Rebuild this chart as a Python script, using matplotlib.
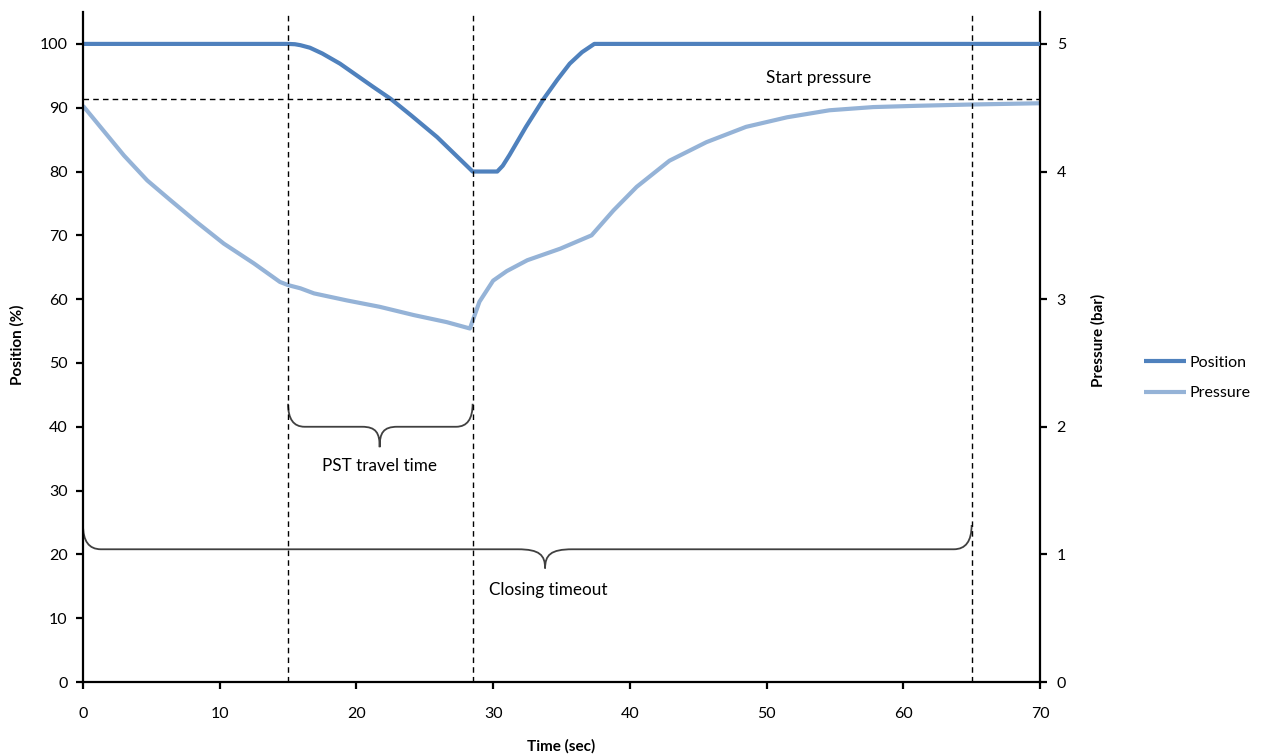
import matplotlib
matplotlib.use("Agg")
import matplotlib.pyplot as plt
from matplotlib.path import Path
from matplotlib.patches import PathPatch

plt.rcParams['font.family'] = ['Lato', 'DejaVu Sans']

# Valve position during the partial stroke test (%)
pos_time = [0, 15.0, 15.5, 15.9, 16.6, 17.5, 18.8, 20.0, 21.2, 22.5, 24.0, 25.9,
            27.2, 28.5, 30.3, 30.7, 31.2, 32.4, 33.7, 34.7, 35.6, 36.5, 37.4, 70]
position = [100, 100, 99.95, 99.8, 99.4, 98.5, 96.9, 95.1, 93.3, 91.4, 88.8, 85.4,
            82.7, 80.0, 80.0, 80.9, 82.6, 87.0, 91.4, 94.4, 96.9, 98.7, 100, 100]

# Supply pressure (bar)
prs_time = [0, 1.5, 3.0, 4.7, 6.4, 8.3, 10.3, 12.5, 14.4, 15.0, 15.9, 16.9, 19.3,
            21.7, 24.2, 26.6, 28.3, 29.0, 30.0, 31.0, 32.5, 34.9, 37.2, 38.8, 40.5,
            42.9, 45.6, 48.5, 51.5, 54.6, 57.8, 61.0, 64.9, 70.0]
pressure = [4.515, 4.32, 4.125, 3.93, 3.775, 3.605, 3.435, 3.28, 3.135, 3.11, 3.085,
            3.045, 2.99, 2.94, 2.875, 2.82, 2.77, 2.98, 3.145, 3.22, 3.305, 3.395,
            3.50, 3.695, 3.88, 4.085, 4.23, 4.35, 4.425, 4.48, 4.505, 4.515, 4.525,
            4.535]

# Test events
pst_start = 15.0
pst_end = 28.5
timeout_end = 65.0
start_pressure = 4.57   # bar

x_ticks = [0, 10, 20, 30, 40, 50, 60, 70]
pos_ticks = [0, 10, 20, 30, 40, 50, 60, 70, 80, 90, 100]
prs_ticks = [0, 1, 2, 3, 4, 5]

c_pos = '#4F81BD'
c_prs = '#95B3D7'

fig = plt.figure(figsize=(12.63, 7.56), dpi=100)
ax = fig.add_axes([83 / 1263, 74 / 756, 957 / 1263, 670 / 756])
ax2 = ax.twinx()

ax.set_xlim(0, 70)
ax.set_ylim(0, 105)
ax2.set_ylim(0, 5.25)

ax.set_zorder(ax2.get_zorder() + 1)
ax.patch.set_visible(False)

l2, = ax2.plot(prs_time, pressure, color=c_prs, lw=3.0, solid_capstyle='butt',
               solid_joinstyle='round', label='Pressure')
l1, = ax.plot(pos_time, position, color=c_pos, lw=3.0, solid_capstyle='butt',
              solid_joinstyle='round', label='Position')

# Event markers
dash = dict(color='black', lw=1.0, ls=(0, (4, 3)))
for t in (pst_start, pst_end, timeout_end):
    ax.axvline(t, **dash)
ax.axhline(start_pressure * 20, **dash)


def brace(axis, x0, x1, y_end, y_line, y_tip, r_end, r_tip, xm=None):
    if xm is None:
        xm = (x0 + x1) / 2
    verts = [
        (x0, y_end), (x0, y_line), (x0 + r_end, y_line),
        (xm - r_tip, y_line),
        (xm - r_tip * 0.2, y_line), (xm, y_line - (y_line - y_tip) * 0.3), (xm, y_tip),
        (xm, y_line - (y_line - y_tip) * 0.3), (xm + r_tip * 0.2, y_line), (xm + r_tip, y_line),
        (x1 - r_end, y_line),
        (x1, y_line), (x1, y_end),
    ]
    codes = [Path.MOVETO, Path.CURVE3, Path.CURVE3,
             Path.LINETO,
             Path.CURVE4, Path.CURVE4, Path.CURVE4,
             Path.CURVE4, Path.CURVE4, Path.CURVE4,
             Path.LINETO,
             Path.CURVE3, Path.CURVE3]
    axis.add_patch(PathPatch(Path(verts, codes), fill=False, color='#404040', lw=1.3))


brace(ax, pst_start, pst_end, 43.6, 40.0, 36.8, 1.2, 1.3, xm=21.7)
brace(ax, 0, timeout_end, 24.6, 20.8, 17.8, 1.3, 2.0, xm=33.8)

ax.text(21.7, 33.8, 'PST travel time', ha='center', va='center', fontsize=12.3)
ax.text(34.0, 14.4, 'Closing timeout', ha='center', va='center', fontsize=12.3)
ax.text(53.8, 94.6, 'Start pressure', ha='center', va='center', fontsize=12.3)

# Axes styling
ax.set_xticks(x_ticks)
ax.set_yticks(pos_ticks)
ax2.set_yticks(prs_ticks)
for a in (ax, ax2):
    for s in a.spines.values():
        s.set_linewidth(1.6)
    a.spines['top'].set_visible(False)
ax.spines['right'].set_visible(False)
ax2.spines['left'].set_visible(False)
ax2.spines['bottom'].set_visible(False)

ax.tick_params(axis='x', direction='out', length=5, width=1.6, pad=13, labelsize=11.5)
ax.tick_params(axis='y', direction='out', length=5, width=1.6, pad=6, labelsize=11.5)
ax2.tick_params(axis='y', direction='out', length=5, width=1.6, pad=7, labelsize=11.5)

ax.set_xlabel('Time (sec)', fontsize=11, fontweight='bold')
ax.set_ylabel('Position (%)', fontsize=11, fontweight='bold')
ax2.set_ylabel('Pressure (bar)', fontsize=11, fontweight='bold', rotation=90)
ax.xaxis.set_label_coords(0.4995, -0.085)
ax.yaxis.set_label_coords(-0.061, 0.503)
ax2.yaxis.set_label_coords(1.053, 0.51)

fig.legend([l1, l2], ['Position', 'Pressure'], loc='center left',
           bbox_to_anchor=(1130 / 1263, 1 - 378 / 756), frameon=False,
           fontsize=11.5, handlelength=2.6, handletextpad=0.2, labelspacing=1.0)

fig.savefig('out.png', dpi=100)
